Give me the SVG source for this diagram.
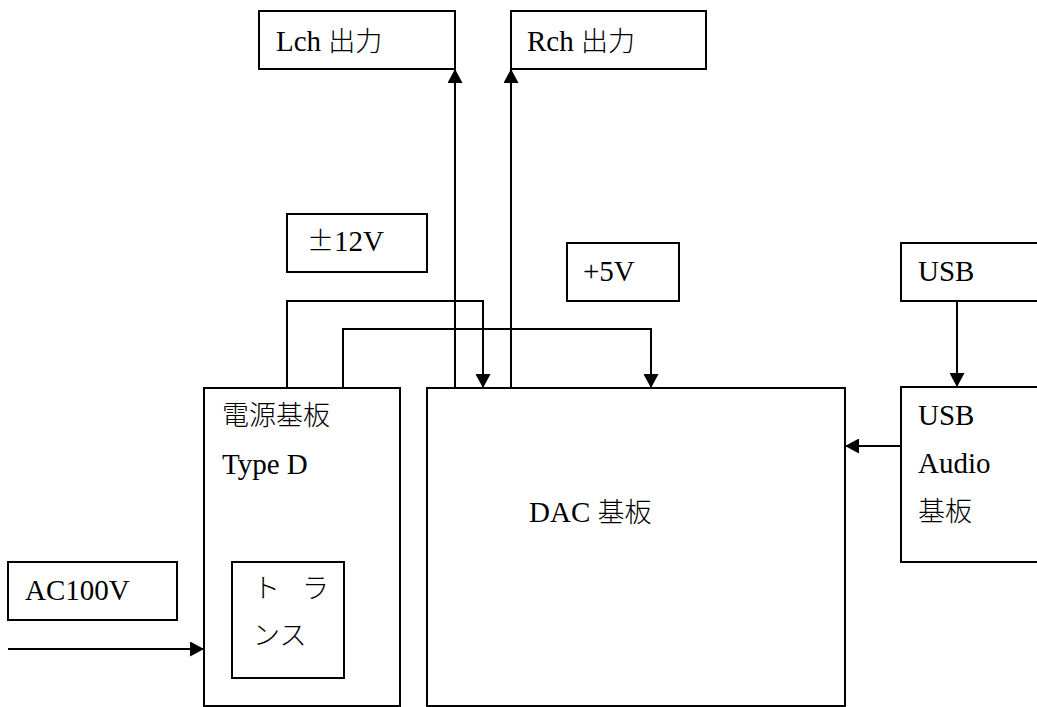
<svg xmlns="http://www.w3.org/2000/svg" width="1037" height="707" viewBox="0 0 1037 707">
<style>
.box{fill:#fff;stroke:#000;stroke-width:2}
.ln{fill:none;stroke:#000;stroke-width:2}
text{font-family:"Liberation Serif","Noto Sans CJK JP",serif;font-size:29px;fill:#000}
.j{font-family:"Noto Sans CJK JP",sans-serif;font-size:27px;font-weight:300}
</style>
<defs>
<marker id="ah" markerUnits="userSpaceOnUse" markerWidth="14" markerHeight="15" refX="14" refY="7.5" orient="auto" viewBox="0 0 14 15">
<path d="M0,0 L14,7.5 L0,15 Z" fill="#000"/>
</marker>
</defs>
<g id="lch"><rect class="box" x="259" y="11" width="196" height="58"/><text x="276" y="51">Lch <tspan class="j">出力</tspan></text></g>
<g id="rch"><rect class="box" x="511" y="11" width="195" height="58"/><text x="527" y="51">Rch <tspan class="j">出力</tspan></text></g>
<g id="pm12"><rect class="box" x="287" y="214" width="140" height="58"/><text x="307" y="251"><tspan class="j">±</tspan>12V</text></g>
<g id="p5"><rect class="box" x="567" y="243" width="112" height="58"/><text x="583" y="281">+5V</text></g>
<g id="usb"><rect class="box" x="901" y="243" width="150" height="58"/><text x="918" y="281">USB</text></g>
<g id="usbaudio"><rect class="box" x="901" y="387" width="150" height="175"/><text x="918" y="425">USB</text><text x="918" y="473">Audio</text><text class="j" x="918" y="521">基板</text></g>
<g id="power"><rect class="box" x="204" y="388" width="196" height="318"/><text class="j" x="222" y="425">電源基板</text><text x="222" y="474">Type D</text></g>
<g id="trans"><rect class="box" x="232" y="562" width="112" height="116"/><text class="j" x="253" y="598">ト</text><text class="j" x="302" y="598">ラ</text><text class="j" x="253" y="645">ンス</text></g>
<g id="ac"><rect class="box" x="8" y="562" width="169" height="58"/><text x="25" y="600">AC100V</text></g>
<g id="dac"><rect class="box" x="427" y="388" width="418" height="318"/><text x="529" y="522">DAC <tspan class="j">基板</tspan></text></g>
<g id="connectors">
<path class="ln" d="M455,388 V69" marker-end="url(#ah)"/>
<path class="ln" d="M511,388 V69" marker-end="url(#ah)"/>
<path class="ln" d="M287,388 V301 H483 V388" marker-end="url(#ah)"/>
<path class="ln" d="M343,388 V329 H651 V388" marker-end="url(#ah)"/>
<path class="ln" d="M957,301 V387" marker-end="url(#ah)"/>
<path class="ln" d="M901,446 H845" marker-end="url(#ah)"/>
<path class="ln" d="M8,649 H204" marker-end="url(#ah)"/>
</g>
</svg>
